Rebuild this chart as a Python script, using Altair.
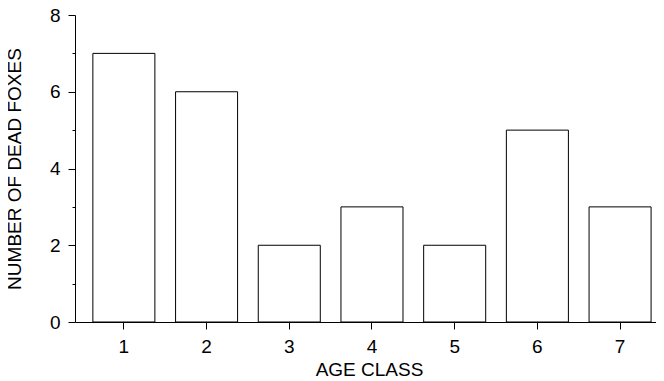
import altair as alt
import pandas as pd

age_class = ["1", "2", "3", "4", "5", "6", "7"]
dead_foxes = [7, 6, 2, 3, 2, 5, 3]
major_ticks = [0, 2, 4, 6, 8]
minor_ticks = [1, 3, 5, 7]

df = pd.DataFrame({"age": age_class, "count": dead_foxes})
minor_df = pd.DataFrame({"v": minor_ticks})

FONT = "Liberation Sans"
FS = 19

x_enc = alt.X(
    "age:N",
    sort=age_class,
    title="AGE CLASS",
    scale=alt.Scale(paddingInner=0.25, paddingOuter=0.18, align=0.6, range=[0, 588]),
    axis=alt.Axis(
        labelAngle=0, tickSize=7, labelPadding=8, titlePadding=4.5,
        domainColor="black", tickColor="black", labelColor="black",
        titleColor="black", labelFontSize=FS, titleFontSize=FS,
        labelFont=FONT, titleFont=FONT, titleFontWeight="normal",
        grid=False,
    ),
)

bars = alt.Chart(df).mark_bar(
    fill="white", stroke="black", strokeWidth=1
).encode(
    x=x_enc,
    y=alt.Y(
        "count:Q",
        title="NUMBER OF DEAD FOXES",
        scale=alt.Scale(domain=[0, 8], nice=False),
        axis=alt.Axis(
            values=major_ticks, tickSize=7, labelPadding=8, titlePadding=24.5,
            domainColor="black", tickColor="black", labelColor="black",
            titleColor="black", labelFontSize=FS, titleFontSize=FS,
            labelFont=FONT, titleFont=FONT, titleFontWeight="normal",
            grid=False,
        ),
    ),
)

minor = alt.Chart(minor_df).mark_point(opacity=0).encode(
    y=alt.Y(
        "v:Q",
        scale=alt.Scale(domain=[0, 8], nice=False),
        axis=alt.Axis(
            orient="left", values=minor_ticks, tickSize=3, labels=False,
            domain=False, title=None, tickColor="black", grid=False,
        ),
    ),
)

chart = alt.layer(bars, minor).resolve_axis(y="independent").properties(
    width=581,
    height=307,
    autosize=alt.AutoSizeParams(type="none"),
    padding={"left": 67, "top": 7, "right": 0, "bottom": 60},
).configure_view(stroke=None)

chart.save("out.html", embed_options={"renderer": "svg", "actions": False})
